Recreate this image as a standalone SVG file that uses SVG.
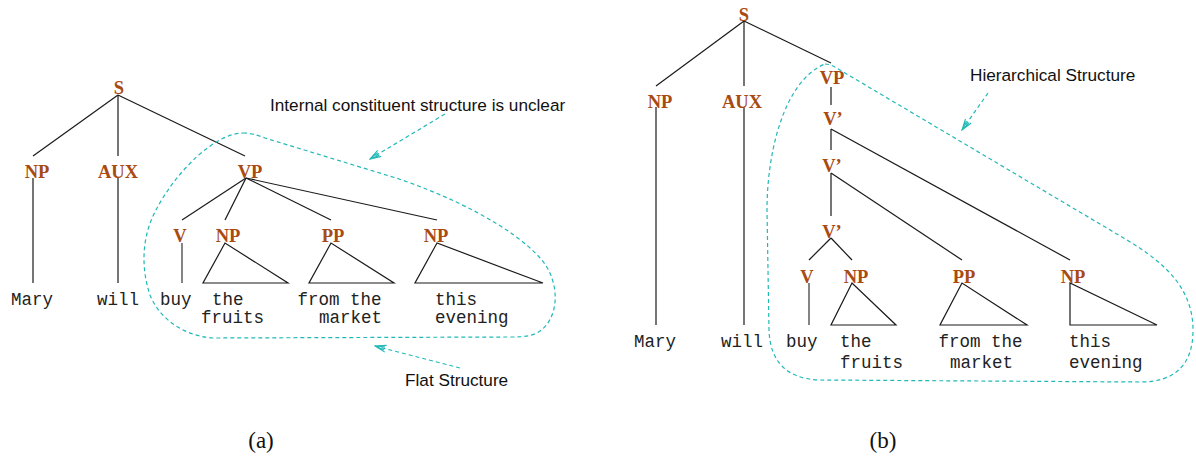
<svg xmlns="http://www.w3.org/2000/svg" width="1196" height="459" viewBox="0 0 1196 459">
  <style>
    .cat { font-family: "Liberation Serif", "Times New Roman", serif; font-weight: bold; font-size: 18.5px; fill: #A94A12; text-anchor: middle; }
    .word { font-family: "Liberation Mono", "Courier New", monospace; font-size: 17.5px; fill: #222; }
    .note { font-family: "Liberation Sans", Arial, sans-serif; font-size: 17.2px; fill: #111; }
    .cap { font-family: "Liberation Serif", "Times New Roman", serif; font-size: 23px; fill: #111; text-anchor: middle; }
    .edge { stroke: #1a1a1a; stroke-width: 1.2; fill: none; }
    .leaf { stroke: #666; stroke-width: 1.6; fill: none; }
    .tri { stroke: #1a1a1a; stroke-width: 1.2; fill: none; stroke-linejoin: miter; }
    .blob { stroke: #22B8B8; stroke-width: 1.2; fill: none; stroke-dasharray: 4 3; }
    .pointer { stroke: #22B8B8; stroke-width: 1.2; fill: none; stroke-dasharray: 4 3; }
  </style>
  <defs>
    <marker id="openHead" markerUnits="userSpaceOnUse" markerWidth="14" markerHeight="10" viewBox="-12 -5 13 10" refX="0" refY="0" orient="auto">
      <path d="M -11,-3.5 L 0,0 L -11,3.5 M -10,-1.5 L 0,0 L -10,1.5" stroke="#22B8B8" stroke-width="1.1" fill="none"/>
    </marker>
  </defs>
  <rect width="1196" height="459" fill="#ffffff"/>

  <!-- connectors: tree branches and subtree triangles -->
  <g id="connectors">
    <!-- (a) flat tree -->
    <line class="edge" x1="118" y1="95" x2="33" y2="156"/>
    <line class="edge" x1="118" y1="95" x2="118" y2="156"/>
    <line class="edge" x1="118" y1="95" x2="245" y2="156"/>
    <line class="edge" x1="33" y1="178" x2="33" y2="283"/>
    <line class="edge" x1="118" y1="178" x2="118" y2="283"/>
    <line class="edge" x1="246" y1="178" x2="182" y2="220"/>
    <line class="edge" x1="246" y1="178" x2="225" y2="220"/>
    <line class="edge" x1="246" y1="178" x2="331" y2="220"/>
    <line class="edge" x1="246" y1="178" x2="437" y2="220"/>
    <line class="leaf" x1="182" y1="243" x2="182" y2="283"/>
    <polygon class="tri" points="225,243 203,283 288,283"/>
    <polygon class="tri" points="331,243 309,283 394,283"/>
    <polygon class="tri" points="437,243 415,283 543,283"/>

    <!-- (b) hierarchical tree -->
    <line class="edge" x1="744" y1="21" x2="656" y2="86"/>
    <line class="edge" x1="744" y1="21" x2="744" y2="86"/>
    <line class="edge" x1="744" y1="21" x2="831" y2="63"/>
    <line class="edge" x1="656" y1="107" x2="656" y2="325"/>
    <line class="edge" x1="744" y1="107" x2="744" y2="325"/>
    <line class="edge" x1="831" y1="87" x2="831" y2="105"/>
    <line class="edge" x1="831" y1="129" x2="831" y2="150"/>
    <line class="edge" x1="831" y1="129" x2="1070" y2="260"/>
    <line class="edge" x1="831" y1="173" x2="831" y2="216"/>
    <line class="edge" x1="831" y1="173" x2="962" y2="260"/>
    <line class="edge" x1="831" y1="238" x2="809" y2="260"/>
    <line class="edge" x1="831" y1="238" x2="852" y2="260"/>
    <line class="leaf" x1="809" y1="283" x2="809" y2="325"/>
    <polygon class="tri" points="852,283 831,325 896,325"/>
    <polygon class="tri" points="962,283 940,325 1027,325"/>
    <polygon class="tri" points="1070,283 1070,325 1157,325"/>
  </g>

  <!-- (a) nodes -->
  <g id="a-S"><text class="cat" x="119" y="94">S</text></g>
  <g id="a-NP-subj"><text class="cat" x="37" y="178">NP</text></g>
  <g id="a-AUX"><text class="cat" x="118" y="178">AUX</text></g>
  <g id="a-VP"><text class="cat" x="250" y="178">VP</text></g>
  <g id="a-V"><text class="cat" x="180" y="242">V</text></g>
  <g id="a-NP-obj"><text class="cat" x="228" y="242">NP</text></g>
  <g id="a-PP"><text class="cat" x="333" y="242">PP</text></g>
  <g id="a-NP-time"><text class="cat" x="436" y="242">NP</text></g>
  <g id="a-w-mary"><text class="word" x="11" y="305">Mary</text></g>
  <g id="a-w-will"><text class="word" x="97" y="305">will</text></g>
  <g id="a-w-buy"><text class="word" x="160" y="305">buy</text></g>
  <g id="a-w-fruits"><text class="word" x="212" y="305">the</text><text class="word" x="201" y="323">fruits</text></g>
  <g id="a-w-market"><text class="word" x="297.5" y="305">from the</text><text class="word" x="319" y="323">market</text></g>
  <g id="a-w-evening"><text class="word" x="435" y="305">this</text><text class="word" x="435" y="323">evening</text></g>

  <!-- (b) nodes -->
  <g id="b-S"><text class="cat" x="744" y="21">S</text></g>
  <g id="b-NP-subj"><text class="cat" x="660" y="108">NP</text></g>
  <g id="b-AUX"><text class="cat" x="742" y="108">AUX</text></g>
  <g id="b-VP"><text class="cat" x="832" y="84">VP</text></g>
  <g id="b-Vbar1"><text class="cat" x="833" y="125">V’</text></g>
  <g id="b-Vbar2"><text class="cat" x="832" y="172">V’</text></g>
  <g id="b-Vbar3"><text class="cat" x="832" y="238">V’</text></g>
  <g id="b-V"><text class="cat" x="807" y="282.5">V</text></g>
  <g id="b-NP-obj"><text class="cat" x="856" y="282.5">NP</text></g>
  <g id="b-PP"><text class="cat" x="964" y="282.5">PP</text></g>
  <g id="b-NP-time"><text class="cat" x="1073" y="282.5">NP</text></g>
  <g id="b-w-mary"><text class="word" x="634" y="347">Mary</text></g>
  <g id="b-w-will"><text class="word" x="721" y="347">will</text></g>
  <g id="b-w-buy"><text class="word" x="786" y="347">buy</text></g>
  <g id="b-w-fruits"><text class="word" x="840" y="347">the</text><text class="word" x="840" y="368">fruits</text></g>
  <g id="b-w-market"><text class="word" x="938.5" y="347">from the</text><text class="word" x="950" y="368">market</text></g>
  <g id="b-w-evening"><text class="word" x="1069" y="347">this</text><text class="word" x="1069" y="368">evening</text></g>

  <!-- dashed enclosures around the verb phrases -->
  <g id="enclosures">
    <path class="blob" d="M 243,133 C 250,133 257,135 265,138 L 396,178 C 450,196 512,226 541,259 C 561,282 560,320 537,333 C 528,337 520,337 510,337 L 213,338 C 185,336 160,320 150,295 C 140,265 143,235 155,212 C 175,172 215,133 243,133 Z"/>
    <path class="blob" d="M 825,64 C 832,64 838,69 845,73 L 1127,240 C 1167,264 1193,290 1193,330 C 1193,365 1175,382 1140,382 L 820,380 C 785,379 770,360 769,330 L 767,210 C 767,150 785,80 825,64 Z"/>
  </g>

  <!-- annotations -->
  <g id="note-unclear">
    <text class="note" x="270" y="110.5">Internal constituent structure is unclear</text>
    <line class="pointer" x1="445" y1="114" x2="370" y2="159" marker-end="url(#openHead)"/>
  </g>
  <g id="note-flat">
    <text class="note" x="405" y="386">Flat Structure</text>
    <line class="pointer" x1="460" y1="368" x2="375" y2="346" marker-end="url(#openHead)"/>
  </g>
  <g id="note-hier">
    <text class="note" x="970" y="81">Hierarchical Structure</text>
    <line class="pointer" x1="988" y1="93" x2="962" y2="130" marker-end="url(#openHead)"/>
  </g>

  <!-- panel captions -->
  <g id="caption-a"><text class="cap" x="261" y="448">(a)</text></g>
  <g id="caption-b"><text class="cap" x="883" y="448">(b)</text></g>
</svg>
